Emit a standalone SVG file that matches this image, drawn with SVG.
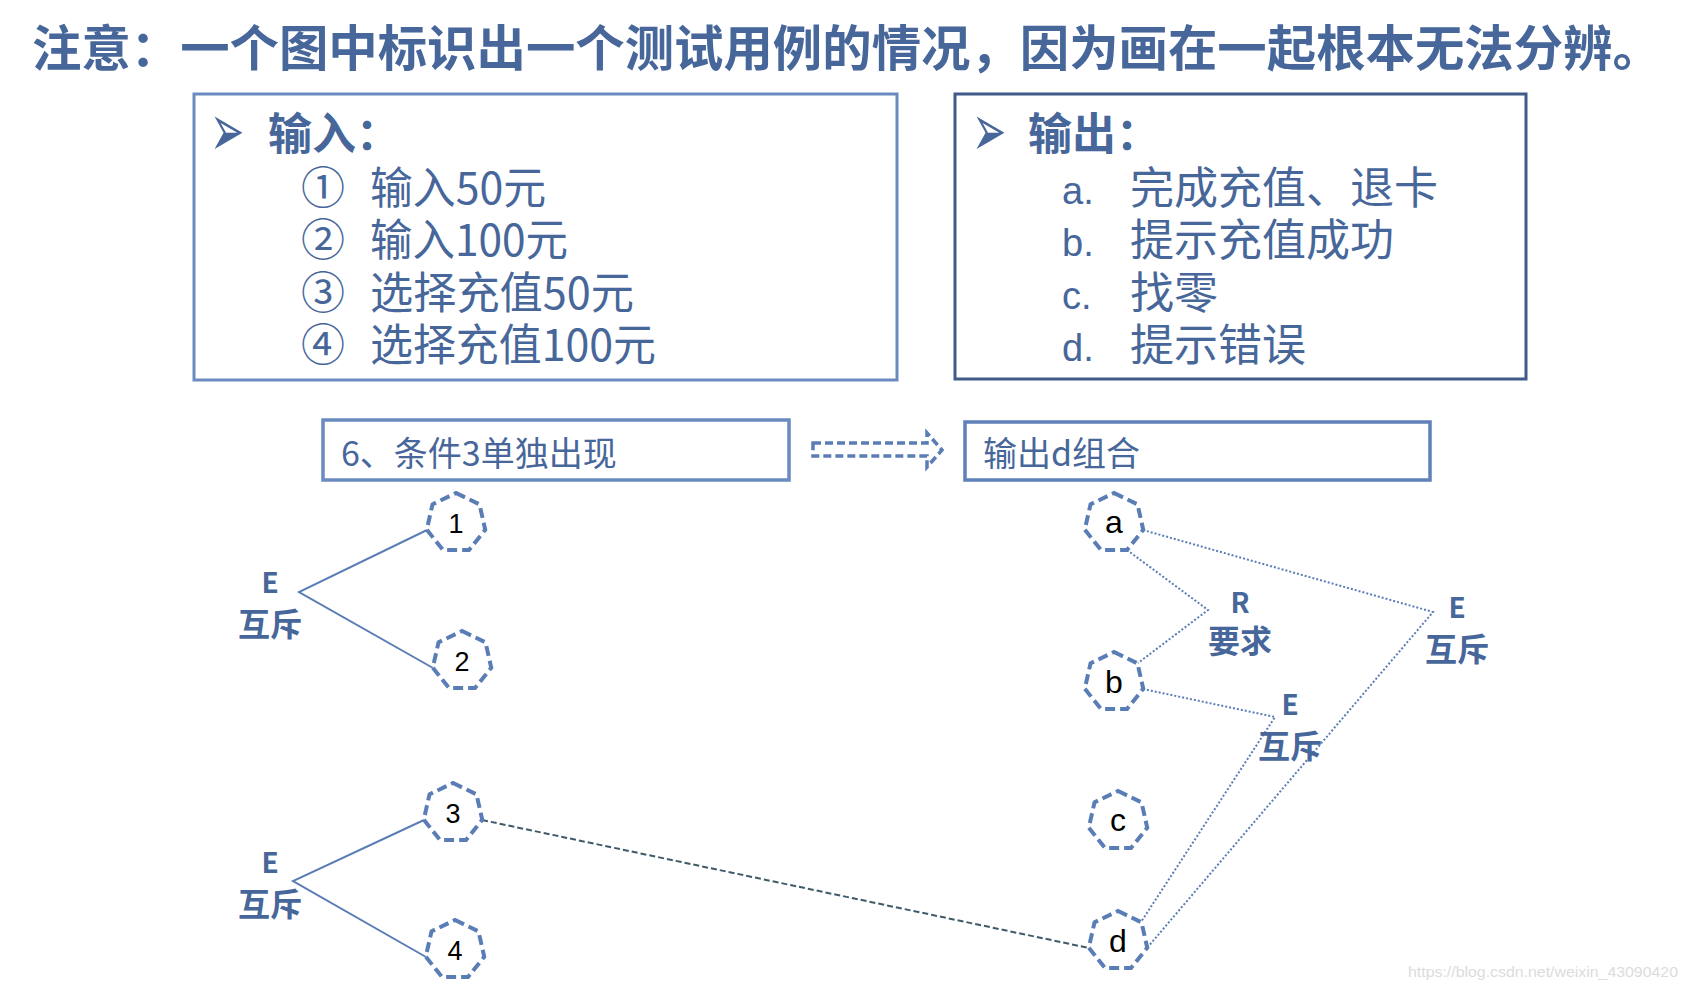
<svg xmlns="http://www.w3.org/2000/svg" xmlns:xlink="http://www.w3.org/1999/xlink" width="1688" height="990" viewBox="0 0 1688 990">
<style>
.t{font-family:"Noto Sans CJK SC","Liberation Sans",sans-serif;fill:#47679a}
.b{font-weight:bold}
.lat{font-family:"Liberation Sans","Noto Sans CJK SC",sans-serif;fill:#47679a}
.bul{font-family:"DejaVu Sans",sans-serif;fill:#47679a;font-size:38px}
.num{font-family:"Liberation Sans","Noto Sans CJK SC",sans-serif;fill:#000;text-anchor:middle}
.dg{font-size:27px}
.lt{font-size:32px}
.lbl{font-family:"Noto Sans CJK SC","Liberation Sans",sans-serif;fill:#47679a;font-weight:bold;text-anchor:middle}
.node{fill:#fff;stroke:#5b7db6;stroke-width:4;stroke-dasharray:10 5}
.solid{fill:none;stroke:#5b7db6;stroke-width:2}
.dot{fill:none;stroke:#5b7db6;stroke-width:2;stroke-dasharray:2 2}
.dash{fill:none;stroke:#3f5a68;stroke-width:2;stroke-dasharray:6 3}
</style>
<defs>
<polygon id="hept" points="0,-30 23.45,-18.7 29.25,6.68 13.02,27.03 -13.02,27.03 -29.25,6.68 -23.45,-18.7"/>
</defs>
<rect width="1688" height="990" fill="#fff"/>

<g id="title">
<text class="t b" x="32" y="66" font-size="49.4">注意：一个图中标识出一个测试用例的情况，因为画在一起根本无法分辨。</text>
</g>

<g id="input-box">
<rect x="194" y="94" width="703" height="286" fill="none" stroke="#6a8bbf" stroke-width="3"/>
<text class="bul" transform="translate(210,156) scale(1.08,1.95)">➢</text>
<text class="t b" x="268" y="150" font-size="44">输入：</text>
<text class="t" y="204" font-size="44"><tspan x="301">①</tspan><tspan x="370" textLength="176" lengthAdjust="spacingAndGlyphs">输入50元</tspan></text>
<text class="t" y="256" font-size="44"><tspan x="301">②</tspan><tspan x="370" textLength="198" lengthAdjust="spacingAndGlyphs">输入100元</tspan></text>
<text class="t" y="309" font-size="44"><tspan x="301">③</tspan><tspan x="370" textLength="264" lengthAdjust="spacingAndGlyphs">选择充值50元</tspan></text>
<text class="t" y="361" font-size="44"><tspan x="301">④</tspan><tspan x="370" textLength="286" lengthAdjust="spacingAndGlyphs">选择充值100元</tspan></text>
</g>

<g id="output-box">
<rect x="955" y="94" width="571" height="285" fill="none" stroke="#3f5b87" stroke-width="3"/>
<text class="bul" transform="translate(972,156) scale(1.08,1.95)">➢</text>
<text class="t b" x="1028" y="150" font-size="44">输出：</text>
<text class="t" y="204" font-size="44"><tspan class="lat" x="1062" font-size="38">a.</tspan><tspan x="1130">完成充值、退卡</tspan></text>
<text class="t" y="256" font-size="44"><tspan class="lat" x="1062" font-size="38">b.</tspan><tspan x="1130">提示充值成功</tspan></text>
<text class="t" y="309" font-size="44"><tspan class="lat" x="1062" font-size="38">c.</tspan><tspan x="1130">找零</tspan></text>
<text class="t" y="361" font-size="44"><tspan class="lat" x="1062" font-size="38">d.</tspan><tspan x="1130">提示错误</tspan></text>
</g>

<g id="cond-box">
<rect x="323" y="420" width="466" height="60" fill="none" stroke="#6a8bbf" stroke-width="3.5"/>
<text class="t" x="341" y="466" font-size="34">6、条件3单独出现</text>
</g>

<g id="result-box">
<rect x="965" y="422" width="465" height="58" fill="none" stroke="#5f80b8" stroke-width="3.5"/>
<text class="t" x="983" y="466" font-size="34">输出d组合</text>
</g>

<g id="connectors">
<polygon points="813,443 927,443 927,433 942,450 927,467 927,456 813,456" fill="none" stroke="#5b7db6" stroke-width="3.5" stroke-dasharray="8 4"/>
<polyline class="solid" points="427,530 299,592 433,668"/>
<polyline class="solid" points="424,820 293,881 426,957"/>
<polyline class="dot" points="1143,530 1433,612 1147,948"/>
<polyline class="dot" points="1127,550 1208,610 1138,663"/>
<polyline class="dot" points="1143,689 1275,717 1141,922"/>
<line class="dash" x1="482" y1="820" x2="1089" y2="948"/>
</g>

<g id="label-E1">
<text class="lbl" x="270" y="593" font-size="28">E</text>
<text class="lbl" x="270" y="636" font-size="32">互斥</text>
</g>
<g id="label-E2">
<text class="lbl" x="270" y="873" font-size="28">E</text>
<text class="lbl" x="270" y="916" font-size="32">互斥</text>
</g>
<g id="label-R">
<text class="lbl" x="1240" y="613" font-size="28">R</text>
<text class="lbl" x="1240" y="653" font-size="32">要求</text>
</g>
<g id="label-E3">
<text class="lbl" x="1457" y="618" font-size="28">E</text>
<text class="lbl" x="1457" y="661" font-size="32">互斥</text>
</g>
<g id="label-E4">
<text class="lbl" x="1290" y="715" font-size="28">E</text>
<text class="lbl" x="1290" y="758" font-size="32">互斥</text>
</g>

<g id="node-1"><use xlink:href="#hept" href="#hept" class="node" transform="translate(456,523)"/><text class="num dg" x="456" y="533">1</text></g>
<g id="node-2"><use xlink:href="#hept" href="#hept" class="node" transform="translate(462,661)"/><text class="num dg" x="462" y="671">2</text></g>
<g id="node-3"><use xlink:href="#hept" href="#hept" class="node" transform="translate(453,813)"/><text class="num dg" x="453" y="823">3</text></g>
<g id="node-4"><use xlink:href="#hept" href="#hept" class="node" transform="translate(455,950)"/><text class="num dg" x="455" y="960">4</text></g>
<g id="node-a"><use xlink:href="#hept" href="#hept" class="node" transform="translate(1114,523)"/><text class="num lt" x="1114" y="533">a</text></g>
<g id="node-b"><use xlink:href="#hept" href="#hept" class="node" transform="translate(1114,682)"/><text class="num lt" x="1114" y="693">b</text></g>
<g id="node-c"><use xlink:href="#hept" href="#hept" class="node" transform="translate(1118,821)"/><text class="num lt" x="1118" y="831">c</text></g>
<g id="node-d"><use xlink:href="#hept" href="#hept" class="node" transform="translate(1118,941)"/><text class="num lt" x="1118" y="952">d</text></g>

<g id="watermark">
<text x="1408" y="977" font-family="Liberation Sans,sans-serif" font-size="15" fill="#dcdcdc" textLength="270" lengthAdjust="spacingAndGlyphs">https://blog.csdn.net/weixin_43090420</text>
</g>
</svg>
